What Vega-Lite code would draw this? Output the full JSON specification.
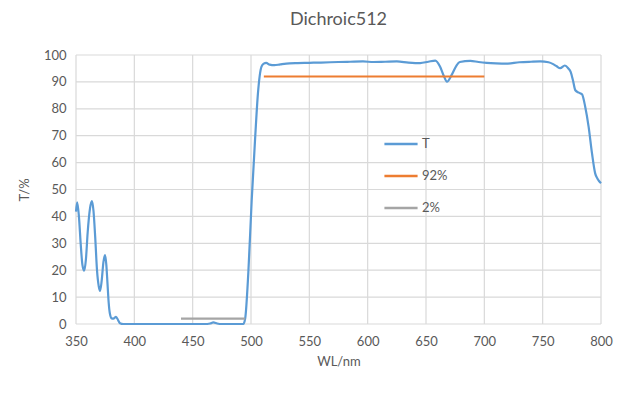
{
  "$schema": "https://vega.github.io/schema/vega-lite/v6.json",
  "width": 525,
  "height": 269,
  "autosize": {"type": "none"},
  "padding": {"left": 76, "top": 55, "right": 28, "bottom": 69},
  "background": "white",
  "title": {"text": "Dichroic512", "fontSize": 18, "font": "Lato", "fontWeight": "normal", "color": "#595959", "offset": 20, "anchor": "middle"},
  "config": {
    "view": {"stroke": null},
    "axis": {"labelFont": "Lato", "titleFont": "Lato", "labelColor": "#595959", "titleColor": "#595959", "labelFontSize": 13, "titleFontSize": 13, "titleFontWeight": "normal", "ticks": false, "grid": false, "domain": false, "labelFlush": false, "labelOverlap": false},
    "legend": {"labelFont": "Lato", "labelColor": "#595959", "labelFontSize": 13}
  },
  "datasets": {
    "gx": [{"v": 350}, {"v": 400}, {"v": 450}, {"v": 500}, {"v": 550}, {"v": 600}, {"v": 650}, {"v": 700}, {"v": 750}, {"v": 800}],
    "gy": [{"v": 0}, {"v": 10}, {"v": 20}, {"v": 30}, {"v": 40}, {"v": 50}, {"v": 60}, {"v": 70}, {"v": 80}, {"v": 90}, {"v": 100}],
    "curve": [
    {"wl": 350, "t": 41.8, "s": "T"}, {"wl": 351, "t": 45.2, "s": "T"}, {"wl": 352.5, "t": 40, "s": "T"}, {"wl": 354, "t": 30, "s": "T"}, {"wl": 355.5, "t": 22, "s": "T"}, {"wl": 357, "t": 19.8, "s": "T"}, {"wl": 358.5, "t": 24, "s": "T"}, {"wl": 360, "t": 34, "s": "T"}, {"wl": 362, "t": 43, "s": "T"}, {"wl": 363.7, "t": 45.7, "s": "T"}, {"wl": 365, "t": 42, "s": "T"}, {"wl": 366.5, "t": 32, "s": "T"}, {"wl": 368, "t": 20, "s": "T"}, {"wl": 369.5, "t": 14, "s": "T"}, {"wl": 370.6, "t": 12.3, "s": "T"}, {"wl": 372, "t": 16, "s": "T"}, {"wl": 373.5, "t": 23, "s": "T"}, {"wl": 374.9, "t": 25.6, "s": "T"}, {"wl": 376, "t": 22, "s": "T"}, {"wl": 377, "t": 15, "s": "T"}, {"wl": 378, "t": 8, "s": "T"}, {"wl": 379, "t": 4, "s": "T"}, {"wl": 380.6, "t": 2.1, "s": "T"}, {"wl": 382, "t": 2, "s": "T"}, {"wl": 384.3, "t": 2.7, "s": "T"}, {"wl": 386, "t": 1.5, "s": "T"}, {"wl": 387.7, "t": 0.3, "s": "T"}, {"wl": 390.6, "t": 0, "s": "T"}, {"wl": 400, "t": 0, "s": "T"}, {"wl": 420, "t": 0, "s": "T"}, {"wl": 440, "t": 0, "s": "T"}, {"wl": 460, "t": 0, "s": "T"}, {"wl": 465, "t": 0.2, "s": "T"}, {"wl": 467.7, "t": 0.6, "s": "T"}, {"wl": 471, "t": 0.2, "s": "T"}, {"wl": 475, "t": 0, "s": "T"}, {"wl": 485, "t": 0, "s": "T"}, {"wl": 493.4, "t": 0, "s": "T"}, {"wl": 495, "t": 2, "s": "T"}, {"wl": 497.7, "t": 19, "s": "T"}, {"wl": 500.6, "t": 46, "s": "T"}, {"wl": 503.4, "t": 68, "s": "T"}, {"wl": 506, "t": 86, "s": "T"}, {"wl": 509, "t": 95.7, "s": "T"}, {"wl": 511, "t": 96.8, "s": "T"}, {"wl": 513, "t": 97.1, "s": "T"}, {"wl": 516, "t": 96.4, "s": "T"}, {"wl": 520, "t": 96.2, "s": "T"}, {"wl": 525, "t": 96.5, "s": "T"}, {"wl": 533, "t": 96.9, "s": "T"}, {"wl": 540, "t": 97, "s": "T"}, {"wl": 550, "t": 97.1, "s": "T"}, {"wl": 560, "t": 97.2, "s": "T"}, {"wl": 568, "t": 97.3, "s": "T"}, {"wl": 575, "t": 97.4, "s": "T"}, {"wl": 585, "t": 97.5, "s": "T"}, {"wl": 596, "t": 97.6, "s": "T"}, {"wl": 605, "t": 97.4, "s": "T"}, {"wl": 615, "t": 97.5, "s": "T"}, {"wl": 625, "t": 97.6, "s": "T"}, {"wl": 635, "t": 97.2, "s": "T"}, {"wl": 645, "t": 97.0, "s": "T"}, {"wl": 652, "t": 97.5, "s": "T"}, {"wl": 658, "t": 97.9, "s": "T"}, {"wl": 662, "t": 95.7, "s": "T"}, {"wl": 665, "t": 92.5, "s": "T"}, {"wl": 668, "t": 90.1, "s": "T"}, {"wl": 672, "t": 92.6, "s": "T"}, {"wl": 676, "t": 96, "s": "T"}, {"wl": 679, "t": 97.4, "s": "T"}, {"wl": 688, "t": 97.8, "s": "T"}, {"wl": 695, "t": 97.4, "s": "T"}, {"wl": 702, "t": 97.1, "s": "T"}, {"wl": 710, "t": 96.9, "s": "T"}, {"wl": 719, "t": 96.8, "s": "T"}, {"wl": 730, "t": 97.3, "s": "T"}, {"wl": 740, "t": 97.5, "s": "T"}, {"wl": 748, "t": 97.6, "s": "T"}, {"wl": 755, "t": 97.3, "s": "T"}, {"wl": 759, "t": 96.6, "s": "T"}, {"wl": 762, "t": 95.8, "s": "T"}, {"wl": 765, "t": 95.1, "s": "T"}, {"wl": 769, "t": 96.1, "s": "T"}, {"wl": 772, "t": 95, "s": "T"}, {"wl": 774, "t": 93.7, "s": "T"}, {"wl": 776, "t": 90.5, "s": "T"}, {"wl": 778, "t": 86.9, "s": "T"}, {"wl": 781, "t": 86, "s": "T"}, {"wl": 783.7, "t": 85.4, "s": "T"}, {"wl": 786.5, "t": 80.7, "s": "T"}, {"wl": 789.4, "t": 73.3, "s": "T"}, {"wl": 792.3, "t": 63.4, "s": "T"}, {"wl": 795, "t": 56, "s": "T"}, {"wl": 797, "t": 54, "s": "T"}, {"wl": 800, "t": 52.3, "s": "T"},
    {"wl": 511, "t": 92, "s": "92%"}, {"wl": 700, "t": 92, "s": "92%"},
    {"wl": 440, "t": 2, "s": "2%"}, {"wl": 495, "t": 2, "s": "2%"}
  ]},
  "layer": [
    {
      "data": {"name": "gx"},
      "mark": {"type": "rule", "color": "#d9d9d9", "strokeWidth": 1.2},
      "encoding": {"x": {"field": "v", "type": "quantitative", "title": "WL/nm", "scale": {"domain": [350, 800], "nice": false}, "axis": {"values": [350, 400, 450, 500, 550, 600, 650, 700, 750, 800], "labelPadding": 11, "titlePadding": 7}}}
    },
    {
      "data": {"name": "gy"},
      "mark": {"type": "rule", "color": "#d9d9d9", "strokeWidth": 1.2},
      "encoding": {"y": {"field": "v", "type": "quantitative", "title": "T/%", "scale": {"domain": [0, 100], "nice": false}, "axis": {"values": [0, 10, 20, 30, 40, 50, 60, 70, 80, 90, 100], "labelPadding": 10, "titlePadding": 12}}}
    },
    {
      "data": {"name": "curve"},
      "mark": {"type": "line", "interpolate": "monotone", "strokeWidth": 2.2},
      "encoding": {
        "x": {"field": "wl", "type": "quantitative", "title": "WL/nm", "axis": {"values": [350, 400, 450, 500, 550, 600, 650, 700, 750, 800], "labelPadding": 11, "titlePadding": 7}},
        "y": {"field": "t", "type": "quantitative", "title": "T/%", "axis": {"values": [0, 10, 20, 30, 40, 50, 60, 70, 80, 90, 100], "labelPadding": 10, "titlePadding": 12}},
        "color": {"field": "s", "type": "nominal", "scale": {"domain": ["T", "92%", "2%"], "range": ["#5B9BD5", "#ED7D31", "#A5A5A5"]},
          "legend": {"title": null, "orient": "none", "legendX": 307, "legendY": 71, "symbolType": "stroke", "symbolSize": 1100, "symbolStrokeWidth": 2.5, "rowPadding": 7, "labelOffset": 3}}
      }
    }
  ]
}
